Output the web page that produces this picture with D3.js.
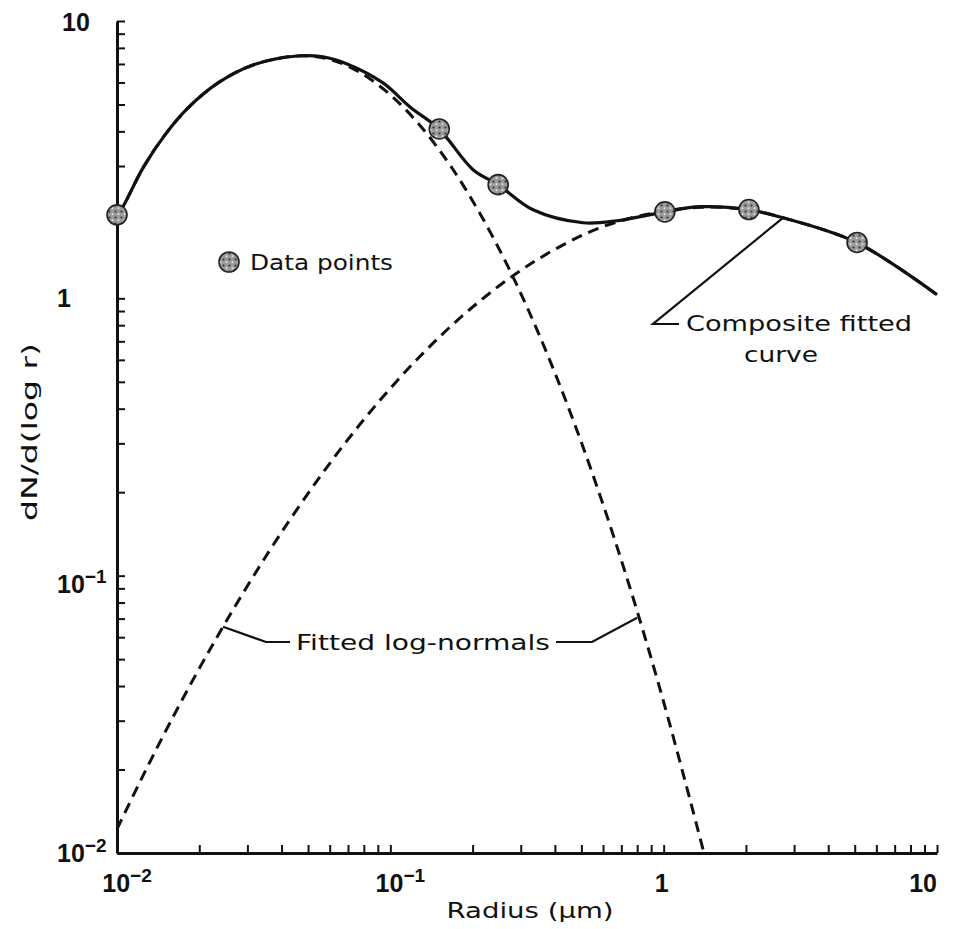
<!DOCTYPE html>
<html><head><meta charset="utf-8">
<script src="https://cdn.jsdelivr.net/npm/d3@7"></script>
<style>
html,body{margin:0;padding:0;background:#fff;}
svg{display:block;}
</style></head>
<body>
<script>
// ---- data ----
const dataR   = [0.01, 0.151, 0.248, 1.01, 2.05, 5.1];
const dataN   = [2.0, 4.08, 2.57, 2.05, 2.09, 1.59];

const compositeR = [0.01, 0.01051, 0.01245, 0.01498, 0.01819, 0.02342, 0.03145, 0.04556, 0.05672, 0.06944, 0.094, 0.118, 0.1507, 0.2007, 0.2477, 0.3327, 0.507, 0.675, 1.011, 1.358, 2.052, 2.733, 5.096, 10];
const compositeN = [2.0, 2.14, 2.955, 3.886, 4.86, 5.98, 6.94, 7.48, 7.42, 7.0, 5.98, 4.9, 4.08, 2.91, 2.57, 2.086, 1.873, 1.904, 2.05, 2.14, 2.086, 1.952, 1.587, 1.03];

const fineR = [0.01, 0.01051, 0.01245, 0.01498, 0.01819, 0.02342, 0.03145, 0.04556, 0.06017, 0.07745, 0.09972, 0.1284, 0.1654, 0.2129, 0.2741, 0.3528, 0.4543, 0.5849, 0.753, 0.9697, 1.248, 1.40];
const fineN = [2.0, 2.14, 2.955, 3.886, 4.86, 5.98, 6.94, 7.48, 7.27, 6.52, 5.43, 4.20, 3.02, 2.02, 1.257, 0.727, 0.390, 0.1947, 0.0904, 0.0390, 0.0156, 0.0101];

const coarseR = [0.01, 0.01245, 0.01563, 0.02012, 0.02442, 0.03066, 0.03947, 0.05529, 0.07745, 0.1085, 0.152, 0.2129, 0.2981, 0.4176, 0.5849, 0.8913, 1.358, 2.052, 2.733, 5.096, 10];
const coarseN = [0.0122, 0.0190, 0.0295, 0.0468, 0.0654, 0.0951, 0.1406, 0.2275, 0.3514, 0.518, 0.729, 0.979, 1.256, 1.537, 1.797, 2.02, 2.13, 2.086, 1.952, 1.587, 1.03];

const xTickValues = [0.01, 0.1, 1, 10];
const xTickBase   = ["10", "10", "1", "10"];
const xTickExp    = ["\u22122", "\u22121", "", ""];
const yTickValues = [10, 1, 0.1, 0.01];
const yTickBase   = ["10", "1", "10", "10"];
const yTickExp    = ["", "", "\u22121", "\u22122"];

const xTitle = "Radius (\u03bcm)";
const yTitle = "dN/d(log r)";
const legendText = "Data points";
const compositeLabel = ["Composite fitted", "curve"];
const lognormalLabel = "Fitted log-normals";

// ---- drawing ----
const W = 954, H = 929;
const svg = d3.select("body").append("svg").attr("width", W).attr("height", H)
  .style("background", "#fff");

const x = d3.scaleLog().domain([0.01, 10]).range([117, 937]);
const y = d3.scaleLog().domain([0.01, 10]).range([853, 21]);

const ink = "#111";
const fontTxt = "'DejaVu Sans', 'Liberation Sans', sans-serif";
const fontNum = "'Liberation Sans', 'DejaVu Sans', sans-serif";

// axes
const gx = svg.append("g").attr("transform", `translate(0,${y(0.01)})`)
  .call(d3.axisBottom(x).tickSize(-8).tickSizeOuter(0).tickFormat(""));
const gy = svg.append("g").attr("transform", `translate(${x(0.01)},0)`)
  .call(d3.axisLeft(y).tickSize(-8).tickSizeOuter(0).tickFormat(""));
[gx, gy].forEach(g => {
  g.select(".domain").attr("stroke", ink).attr("stroke-width", 3);
  g.selectAll(".tick line").attr("stroke", ink).attr("stroke-width", 2);
});

// x tick labels
xTickValues.forEach((v, i) => {
  const t = svg.append("text")
    .attr("x", x(v) + (i === 3 ? 0 : (i === 2 ? -2 : 10)))
    .attr("y", y(0.01) + 39)
    .attr("text-anchor", i === 3 ? "end" : "middle")
    .attr("font-family", fontNum).attr("font-weight", "bold").attr("font-size", 25)
    .attr("fill", ink);
  t.append("tspan").text(xTickBase[i]);
  if (xTickExp[i]) t.append("tspan").attr("dy", -10).attr("font-size", 19).text(xTickExp[i]);
});

// y tick labels
yTickValues.forEach((v, i) => {
  const dy = i === 0 ? 10 : (i === 1 ? 9 : (i === 2 ? 17 : 9));
  const t = svg.append("text")
    .attr("x", i === 0 ? 62 : 57)
    .attr("y", y(v) + dy)
    .attr("text-anchor", "start")
    .attr("font-family", fontNum).attr("font-weight", "bold").attr("font-size", 25)
    .attr("fill", ink);
  t.append("tspan").text(yTickBase[i]);
  if (yTickExp[i]) t.append("tspan").attr("dy", -10).attr("font-size", 19).text(yTickExp[i]);
});

// axis titles
svg.append("text").attr("x", 530).attr("y", 918).attr("text-anchor", "middle")
  .attr("font-family", fontTxt).attr("font-size", 22).attr("fill", ink)
  .attr("textLength", 167).attr("lengthAdjust", "spacingAndGlyphs").text(xTitle);
svg.append("text").attr("transform", "translate(37,432) rotate(-90)").attr("text-anchor", "middle")
  .attr("font-family", fontTxt).attr("font-size", 22).attr("fill", ink)
  .attr("textLength", 178).attr("lengthAdjust", "spacingAndGlyphs").text(yTitle);

// curves
const line = d3.line().x(d => x(d[0])).y(d => y(d[1])).curve(d3.curveCatmullRom.alpha(0.5));
const zip = (a, b) => a.map((v, i) => [v, b[i]]);

svg.append("path").datum(zip(fineR, fineN)).attr("d", line)
  .attr("fill", "none").attr("stroke", ink).attr("stroke-width", 3)
  .attr("stroke-dasharray", "11,7");
svg.append("path").datum(zip(coarseR, coarseN)).attr("d", line)
  .attr("fill", "none").attr("stroke", ink).attr("stroke-width", 3)
  .attr("stroke-dasharray", "11,7");
svg.append("path").datum(zip(compositeR, compositeN)).attr("d", line)
  .attr("fill", "none").attr("stroke", ink).attr("stroke-width", 3.2);

// speckled marker pattern
const defs = svg.append("defs");
const pat = defs.append("pattern").attr("id", "speck").attr("patternUnits", "userSpaceOnUse")
  .attr("width", 6).attr("height", 6);
pat.append("rect").attr("width", 6).attr("height", 6).attr("fill", "#9a9a9a");
pat.append("circle").attr("cx", 1.5).attr("cy", 1.5).attr("r", 1.1).attr("fill", "#333");
pat.append("circle").attr("cx", 4.5).attr("cy", 4.2).attr("r", 0.9).attr("fill", "#eee");

// data points
svg.selectAll("circle.pt").data(zip(dataR, dataN)).join("circle").attr("class", "pt")
  .attr("cx", d => x(d[0])).attr("cy", d => y(d[1])).attr("r", 10)
  .attr("fill", "url(#speck)").attr("stroke", "#222").attr("stroke-width", 1.6);

// legend
svg.append("circle").attr("cx", 229).attr("cy", 262).attr("r", 10)
  .attr("fill", "url(#speck)").attr("stroke", "#222").attr("stroke-width", 1.6);
svg.append("text").attr("x", 250).attr("y", 270)
  .attr("font-family", fontTxt).attr("font-size", 21).attr("fill", ink)
  .attr("textLength", 143).attr("lengthAdjust", "spacingAndGlyphs").text(legendText);

// composite annotation
const cA = [x(2.733), y(1.952)];
svg.append("path").attr("d", `M${cA[0]},${cA[1]} L653,324 L679,324`)
  .attr("fill", "none").attr("stroke", ink).attr("stroke-width", 2.2);
svg.append("text").attr("x", 686).attr("y", 331)
  .attr("font-family", fontTxt).attr("font-size", 21).attr("fill", ink)
  .attr("textLength", 226).attr("lengthAdjust", "spacingAndGlyphs").text(compositeLabel[0]);
svg.append("text").attr("x", 744).attr("y", 362)
  .attr("font-family", fontTxt).attr("font-size", 21).attr("fill", ink)
  .attr("textLength", 74).attr("lengthAdjust", "spacingAndGlyphs").text(compositeLabel[1]);

// log-normal annotation
const YT = 642;
const lA = [x(0.02442), y(0.0654)];
const rA = [x(0.80), y(0.0705)];
svg.append("path").attr("d", `M${lA[0]},${lA[1]} L266,${YT} L290,${YT}`)
  .attr("fill", "none").attr("stroke", ink).attr("stroke-width", 2.2);
svg.append("path").attr("d", `M556,${YT} L592,${YT} L${rA[0]},${rA[1]}`)
  .attr("fill", "none").attr("stroke", ink).attr("stroke-width", 2.2);
svg.append("text").attr("x", 296).attr("y", YT + 8)
  .attr("font-family", fontTxt).attr("font-size", 21).attr("fill", ink)
  .attr("textLength", 254).attr("lengthAdjust", "spacingAndGlyphs").text(lognormalLabel);
</script>
</body></html>
